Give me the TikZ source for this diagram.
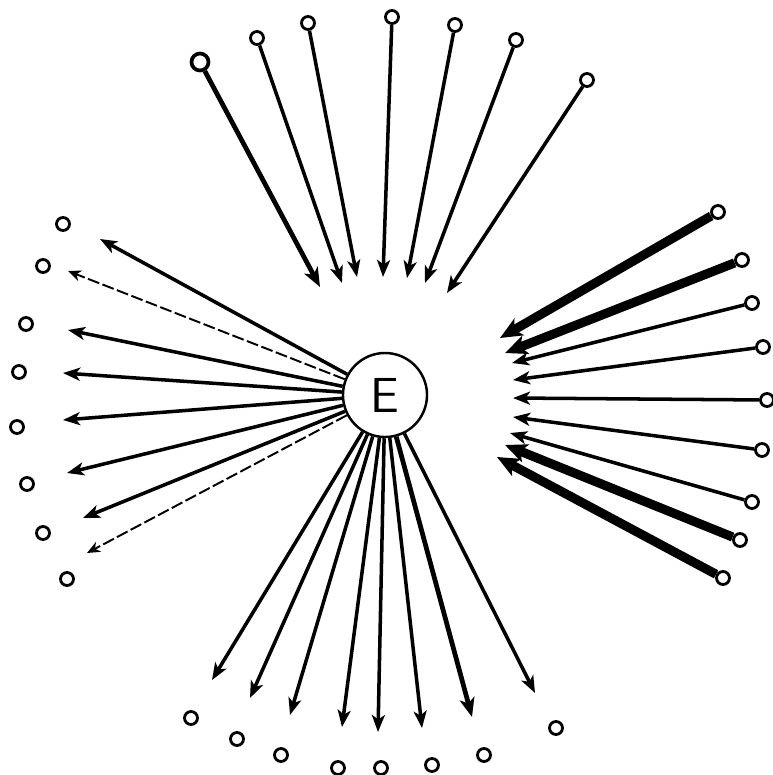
\documentclass[tikz,border=0pt]{standalone}
\usetikzlibrary{arrows.meta}
\begin{document}
\begin{tikzpicture}[x=0.01cm,y=-0.01cm,
  dot/.style={circle,draw,line width=0.8pt,fill=white,inner sep=0pt,minimum size=0.13cm},
  bigdot/.style={dot,minimum size=0.17cm,line width=1.05pt},
  arr/.style={line width=1.0pt,-{Stealth[length=0.17cm,width=0.13cm,inset=0.045cm]}},
  arrb/.style={line width=1.35pt,-{Stealth[length=0.19cm,width=0.15cm,inset=0.05cm]}},
  heavy/.style={line width=2.6pt,-{Stealth[length=0.22cm,width=0.19cm,inset=0.055cm]}},
  dashedarr/.style={line width=0.55pt,dash pattern=on 0.12cm off 0.035cm,-{Stealth[length=0.13cm,width=0.11cm,inset=0.04cm]}},
  elabel/.style={circle,draw,line width=0.7pt,minimum size=0.84cm,inner sep=0pt,font=\sffamily\fontsize{14}{14}\selectfont}]
\useasboundingbox (0,0) rectangle (773,775);
\node[elabel] (E) at (385,395) {E};
% top group
\node[bigdot] (t1) at (200,62) {};
\coordinate (tt1) at (320,287);
\draw[arrb] (t1) -- (tt1);
\foreach \n/\cx/\cy/\tx/\ty in {2/257/38/342/283,3/308/23/357/277,4/392/17/383/277,5/455/25/407/278,6/516/40/425/283,7/587/80/447/293}{
  \node[dot] (t\n) at (\cx,\cy) {};
  \coordinate (tt\n) at (\tx,\ty);
  \draw[arr] (t\n) -- (tt\n);
}
% right group
\foreach \n/\cx/\cy/\tx/\ty/\s in {1/718/212/500/338/heavy,2/742/260/505/353/heavy,3/752/303/512/363/arr,4/763/347/513/380/arr,5/767/400/513/398/arr,6/762/450/513/417/arr,7/752/502/510/433/arr,8/740/540/505/445/heavy,9/723/578/497/457/heavy}{
  \node[dot] (r\n) at (\cx,\cy) {};
  \coordinate (rr\n) at (\tx,\ty);
  \draw[\s] (r\n) -- (rr\n);
}
% left group circles
\foreach \n/\cx/\cy in {1/63/224,2/43/266,3/26/324,4/19/372,5/17/427,6/27/484,7/43/533,8/67/579}{
  \node[dot] (l\n) at (\cx,\cy) {};
}
% left group arrows
\foreach \n/\tx/\ty/\s in {1/100/239/arr,2/68/271/dashedarr,3/68/330/arr,4/63/373/arr,5/63/420/arr,6/67/473/arr,7/83/518/arr,8/87/553/dashedarr}{
  \coordinate (ll\n) at (\tx,\ty);
  \draw[\s] (E) -- (ll\n);
}
% bottom group circles
\foreach \n/\cx/\cy in {1/191/718,2/237/739,3/281/755,4/338/768,5/381/768,6/432/765,7/484/755,8/556/728}{
  \node[dot] (b\n) at (\cx,\cy) {};
}
% bottom group arrows
\foreach \n/\tx/\ty/\s in {1/212/680/arr,2/250/698/arr,3/290/715/arr,4/342/727/arr,5/378/732/arr,6/422/728/arr,7/472/717/arrb,8/535/693/arr}{
  \coordinate (bb\n) at (\tx,\ty);
  \draw[\s] (E) -- (bb\n);
}
\end{tikzpicture}
\end{document}
